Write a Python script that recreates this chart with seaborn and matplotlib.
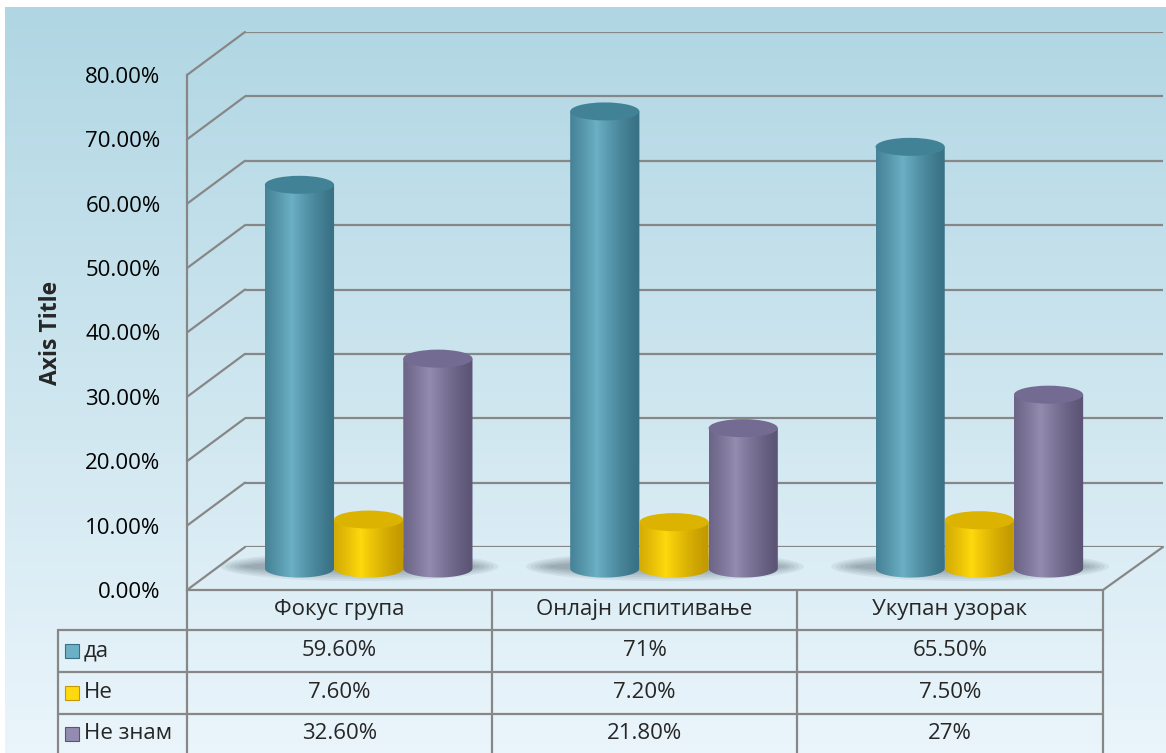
import matplotlib
matplotlib.use('Agg')
import matplotlib.pyplot as plt
import numpy as np
import pandas as pd
import seaborn as sns
from matplotlib.patches import Ellipse, PathPatch, Rectangle, ConnectionPatch
from matplotlib.path import Path
from matplotlib.ticker import FuncFormatter

# data
categories = ['Фокус група', 'Онлајн испитивање', 'Укупан узорак']
series_names = ['да', 'Не', 'Не знам']
da = [59.6, 71.0, 65.5]
ne = [7.6, 7.2, 7.5]
ne_znam = [32.6, 21.8, 27.0]
y_ticks = [0, 10, 20, 30, 40, 50, 60, 70, 80]

# (edge, highlight, cap) per series
body_cols = {
    'да': ((0.22, 0.44, 0.52), (0.42, 0.69, 0.77), (0.26, 0.51, 0.59)),
    'Не': ((0.76, 0.60, 0.00), (1.00, 0.85, 0.05), (0.86, 0.70, 0.00)),
    'Не знам': ((0.36, 0.33, 0.46), (0.58, 0.55, 0.69), (0.45, 0.42, 0.57)),
}
palette = {k: v[1] for k, v in body_cols.items()}

df = pd.DataFrame({
    'category': categories * 3,
    'series': [s for s in series_names for _ in categories],
    'value': da + ne + ne_znam,
})

def fmt(v):
    return f'{v:g}%' if float(v).is_integer() else f'{v:.2f}%'

sns.set_theme(style='white')
plt.rcParams['font.family'] = ['Open Sans', 'DejaVu Sans']

W, H = 1166, 753
fig = plt.figure(figsize=(W / 100, H / 100), dpi=100)
fig.patch.set_facecolor('white')

def fx(px):
    return px / W

def fy(py):
    return 1 - py / H

# background panel gradient
bg = fig.add_axes([0, 0, 1, 1], zorder=-10)
bg.axis('off')
top = np.array([0.69, 0.84, 0.89])
bot = np.array([0.92, 0.96, 0.985])
t = np.linspace(0, 1, 256)[:, None]
grad = (top[None, :] * (1 - t) + bot[None, :] * t)[:, None, :]
bg.imshow(grad, extent=(5, W, H, 7), aspect='auto', interpolation='bilinear')
bg.set_xlim(0, W)
bg.set_ylim(H, 0)

grid_col = '#878787'

# front vertical axis (tick labels)
ax_front = fig.add_axes([fx(187), fy(590), (1103 - 187) / W, (590 - 75) / H])
ax_front.set_xlim(0, 1)
ax_front.set_ylim(0, 80)
ax_front.patch.set_visible(False)
for s in ['top', 'right', 'bottom']:
    ax_front.spines[s].set_visible(False)
ax_front.spines['left'].set_color(grid_col)
ax_front.spines['left'].set_linewidth(1.6)
ax_front.set_xticks([])
ax_front.set_yticks(y_ticks)
ax_front.yaxis.set_major_formatter(FuncFormatter(lambda v, p: f'{v:.2f}%'))
ax_front.tick_params(axis='y', length=0, pad=19, labelsize=16, labelcolor='black')
ax_front.set_ylabel('Axis Title', fontsize=16.5, fontweight='bold')
ax_front.yaxis.set_label_coords(-0.135, 0.5)

# back wall gridlines
ax_back = fig.add_axes([fx(245), fy(547), (1163 - 245) / W, (547 - 32) / H], zorder=-5)
ax_back.set_xlim(0, 1)
ax_back.set_ylim(0, 80)
ax_back.axis('off')
for v in y_ticks:
    ax_back.axhline(v, color=grid_col, lw=1.6)
    fig.add_artist(ConnectionPatch(xyA=(0, v), coordsA=ax_front.get_yaxis_transform(),
                                   xyB=(0, v), coordsB=ax_back.get_yaxis_transform(),
                                   color=grid_col, lw=1.6))
fig.add_artist(ConnectionPatch(xyA=(1, 0), coordsA=ax_front.transAxes,
                               xyB=(1, 0), coordsB=ax_back.transAxes,
                               color=grid_col, lw=1.6))

# cylinders at mid depth
ppu = 515 / 80.0
ymin = -5
ax_bar = fig.add_axes([fx(216), fy(568.5 - ymin * ppu), (1132 - 216) / W, (568.5 - 53.5 - ymin * ppu) / H])
sns.barplot(data=df, x='category', y='value', hue='series', hue_order=series_names,
            order=categories, palette=palette, saturation=1, width=0.68,
            ax=ax_bar, legend=False)
ax_bar.axis('off')
ax_bar.patch.set_visible(False)

eh = 2.8
# soft floor shadows
for c in range(len(categories)):
    for k in range(6):
        ax_bar.add_patch(Ellipse((c - 0.03, 0.3), 0.76 + k * 0.03, 1.5 + k * 0.6,
                                 facecolor='#3a4850', edgecolor='none', alpha=0.08, zorder=1))

prof = np.linspace(0, 1, 64)
shape = np.clip(1 - np.abs(prof - 0.38) / 0.62, 0, 1) ** 1.3
for i, cont in enumerate(ax_bar.containers):
    edge, hi, cap = body_cols[series_names[i]]
    edge = np.array(edge)
    hi = np.array(hi)
    img = (edge[None, :] * (1 - shape[:, None]) + hi[None, :] * shape[:, None])[None, :, :]
    for bar in cont:
        x0, w, h = bar.get_x(), bar.get_width(), bar.get_height()
        bar.set_visible(False)
        cx = x0 + w / 2
        th = np.linspace(np.pi, 2 * np.pi, 60)
        verts = [(x0, h)] + list(zip(cx + w / 2 * np.cos(th), eh / 2 * np.sin(th))) + [(x0 + w, h), (x0, h)]
        codes = [Path.MOVETO] + [Path.LINETO] * (len(verts) - 2) + [Path.CLOSEPOLY]
        pp = PathPatch(Path(verts, codes), facecolor='none', edgecolor='none', transform=ax_bar.transData)
        ax_bar.add_patch(pp)
        im = ax_bar.imshow(img, extent=(x0, x0 + w, -eh, h), aspect='auto',
                           interpolation='bilinear', zorder=3 + i)
        im.set_clip_path(pp)
        ax_bar.add_patch(Ellipse((cx, h), w, eh, facecolor=cap, edgecolor='none', zorder=3 + i + 0.5))
ax_bar.set_xlim(-0.5, len(categories) - 0.5)
ax_bar.set_ylim(ymin, 80)

# data table
tab = fig.add_axes([0, 0, 1, 1], zorder=5)
tab.set_xlim(0, W)
tab.set_ylim(H, 0)
tab.axis('off')
col_x = [187, 492, 797, 1103]
row_y = [590, 630, 672, 714, 753]
lc = dict(color=grid_col, lw=1.6)
tab.plot([col_x[0], col_x[-1]], [row_y[0]] * 2, **lc)
for y in row_y[1:4]:
    tab.plot([58, col_x[-1]], [y, y], **lc)
for x in col_x:
    tab.plot([x, x], [row_y[0], H], **lc)
tab.plot([58, 58], [row_y[1], H], **lc)
for j, cat in enumerate(categories):
    cxp = (col_x[j] + col_x[j + 1]) / 2
    tab.text(cxp, (row_y[0] + row_y[1]) / 2, cat, ha='center', va='center', fontsize=16)
series_vals = [da, ne, ne_znam]
for i, name in enumerate(series_names):
    yc = (row_y[i + 1] + row_y[i + 2]) / 2
    tab.add_patch(Rectangle((65, yc - 7), 14, 14, facecolor=body_cols[name][1],
                            edgecolor=body_cols[name][0], lw=0.8))
    tab.text(84, yc, name, ha='left', va='center', fontsize=16)
    for j in range(len(categories)):
        cxp = (col_x[j] + col_x[j + 1]) / 2
        tab.text(cxp, yc, fmt(series_vals[i][j]), ha='center', va='center', fontsize=16)

fig.savefig('out.png', dpi=100)
